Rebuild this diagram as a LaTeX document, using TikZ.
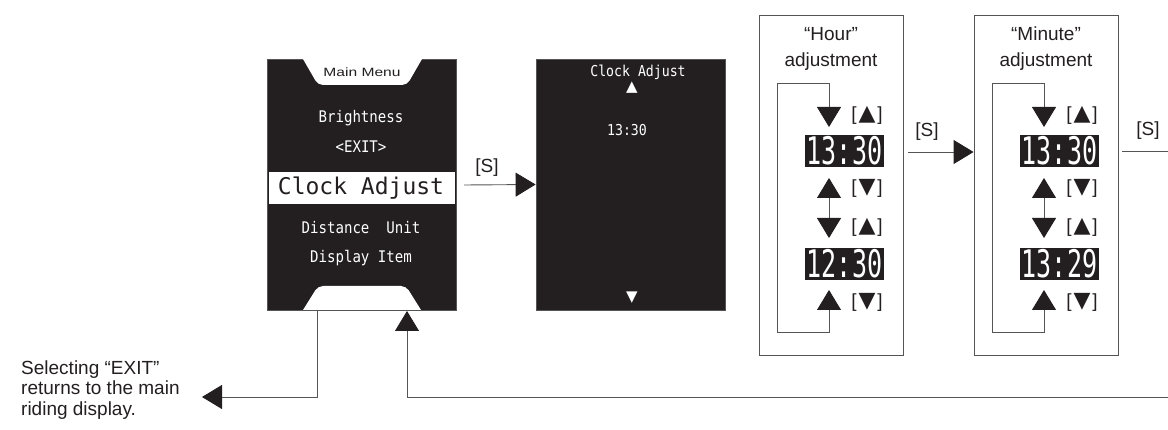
\documentclass[tikz,border=0pt]{standalone}
\usepackage{fontspec}
\setmainfont{Liberation Sans}
\newfontfamily\lcdfont[FakeStretch=0.88]{DejaVu Sans Mono}
\newfontfamily\bigfont{DejaVu Sans Mono}
\newfontfamily\digitfont[FakeStretch=0.66]{DejaVu Sans Mono}
\newfontfamily\menufont[FakeStretch=1.3]{Liberation Sans}
\newfontfamily\symfont{DejaVu Sans}
\newcommand{\kup}{[\kern2pt{\symfont\fontsize{22}{22}\selectfont ▲}\kern2pt]}
\newcommand{\kdn}{[\kern2pt{\symfont\fontsize{22}{22}\selectfont ▼}\kern2pt]}
\usetikzlibrary{arrows.meta}
\definecolor{scr}{HTML}{231F20}
\definecolor{ln}{HTML}{555555}
\tikzset{
  lbl/.style={font=\fontsize{19}{22}\selectfont, text=scr, inner sep=0pt},
  scrtxt/.style={font=\lcdfont\fontsize{16}{18}\selectfont, text=white, inner sep=0pt},
  screen/.style={fill=scr, draw=ln, line width=0.8pt, minimum width=189pt, minimum height=251pt, inner sep=0pt},
  frame/.style={draw=ln, line width=0.9pt, minimum width=144pt, minimum height=340pt, inner sep=0pt},
  digits/.style={fill=scr, text=white, minimum width=79pt, minimum height=32pt, inner sep=0pt, font=\digitfont\fontsize{38}{38}\selectfont},
  conn/.style={draw=ln, line width=0.9pt},
  tri/.style={-{Triangle[length=20pt,width=24pt,color=scr]}},
  bitri/.style={{Triangle[length=20pt,width=24pt,color=scr]}-{Triangle[length=20pt,width=24pt,color=scr]}}
}
\begin{document}
\begin{tikzpicture}[x=1pt,y=-1pt]
\useasboundingbox (0,0) rectangle (1168,430);

% ---- screen 1: Main Menu
\node[screen] (s1) at (361.5,184.5) {};
\begin{scope}
  \clip (267,59) rectangle (456,310);
  \fill[white, rounded corners=5pt] (292,40) -- (318,85) -- (407,85) -- (433,40) -- cycle;
  \fill[white, rounded corners=5pt] (290.5,330) -- (318,286) -- (406,286) -- (433.5,330) -- cycle;
\end{scope}
\fill[white] (269,172) rectangle (455,204);
\node[font=\menufont\fontsize{12}{14}\selectfont, text=scr, inner sep=0pt] (mm) at (362,72) {Main Menu};
\node[scrtxt] (br) at (361,118) {Brightness};
\node[scrtxt] (ex) at (361,147) {<EXIT>};
\node[font=\bigfont\fontsize{23}{25}\selectfont, text=scr, inner sep=0pt] (ca) at (361,188) {Clock Adjust};
\node[scrtxt] (du) at (361,228) {Distance~~Unit};
\node[scrtxt] (di) at (361,258) {Display Item};

% ---- screen 2: Clock Adjust
\node[screen] (s2) at (630.5,184.5) {};
\node[scrtxt, font=\lcdfont\fontsize{15}{17}\selectfont] (ca2) at (638,72) {Clock Adjust};
\node[font=\symfont\fontsize{15}{15}\selectfont, text=white, inner sep=0pt] (up2) at (632,88) {▲};
\node[scrtxt, font=\lcdfont\fontsize{15}{17}\selectfont] (t2) at (627,130) {13:30};
\node[font=\symfont\fontsize{15}{15}\selectfont, text=white, inner sep=0pt] (dn2) at (632,298) {▼};

\node[lbl, anchor=base] (s1lbl) at (487,173) {[S]};
\draw[conn,tri] (464,185) -- (s2.west);

% ---- Hour adjustment
\node[frame] (hb) at (831,185) {};
\node[lbl, anchor=base] (hq) at (831,41) {“Hour”};
\node[lbl, anchor=base] (ha) at (831,67) {adjustment};
\node[digits] (h1) at (844.5,151) {13:30};
\node[digits] (h2) at (844.5,264) {12:30};
\node[lbl] (hk1) at (867,115) {\kup};
\node[lbl] (hk2) at (867,188) {\kdn};
\node[lbl] (hk3) at (867,227) {\kup};
\node[lbl] (hk4) at (867,302) {\kdn};
\draw[conn,bitri] (829,290) -- (829,332) -- (777,332) -- (777,83) -- (829,83) -- (829,127);
\draw[conn,bitri] (829,178) -- (829,238);

\node[lbl, anchor=base] (s2lbl) at (927,137) {[S]};

% ---- Minute adjustment
\node[frame] (mb) at (1046,185) {};
\node[lbl, anchor=base] (mq) at (1046,41) {“Minute”};
\node[lbl, anchor=base] (ma) at (1046,67) {adjustment};
\node[digits] (m1) at (1059.5,151) {13:30};
\node[digits] (m2) at (1059.5,264) {13:29};
\node[lbl] (mk1) at (1082,115) {\kup};
\node[lbl] (mk2) at (1082,188) {\kdn};
\node[lbl] (mk3) at (1082,227) {\kup};
\node[lbl] (mk4) at (1082,302) {\kdn};
\draw[conn,bitri] (1044,290) -- (1044,332) -- (992,332) -- (992,83) -- (1044,83) -- (1044,127);
\draw[conn,bitri] (1044,178) -- (1044,238);

\draw[conn,tri] (908,152) -- (mb.west |- 0,152);

\node[lbl, anchor=base] (s3lbl) at (1148,136) {[S]};
\coordinate (rout) at (1168,151);
\draw[conn] (mb.east |- 0,151) ++(4,0) -- (rout);

% ---- return and exit
\coordinate (rin) at (1168,397);
\draw[conn,tri] (rin) -- (407,397) -- (407,311);

\node[lbl, anchor=base west] (e1) at (21,374) {Selecting “EXIT”};
\node[lbl, anchor=base west] (e2) at (21,395) {returns to the main};
\node[lbl, anchor=base west] (e3) at (21,416) {riding display.};
\draw[conn,tri] (317,310) -- (317,397) -- (202,397);
\end{tikzpicture}
\end{document}
